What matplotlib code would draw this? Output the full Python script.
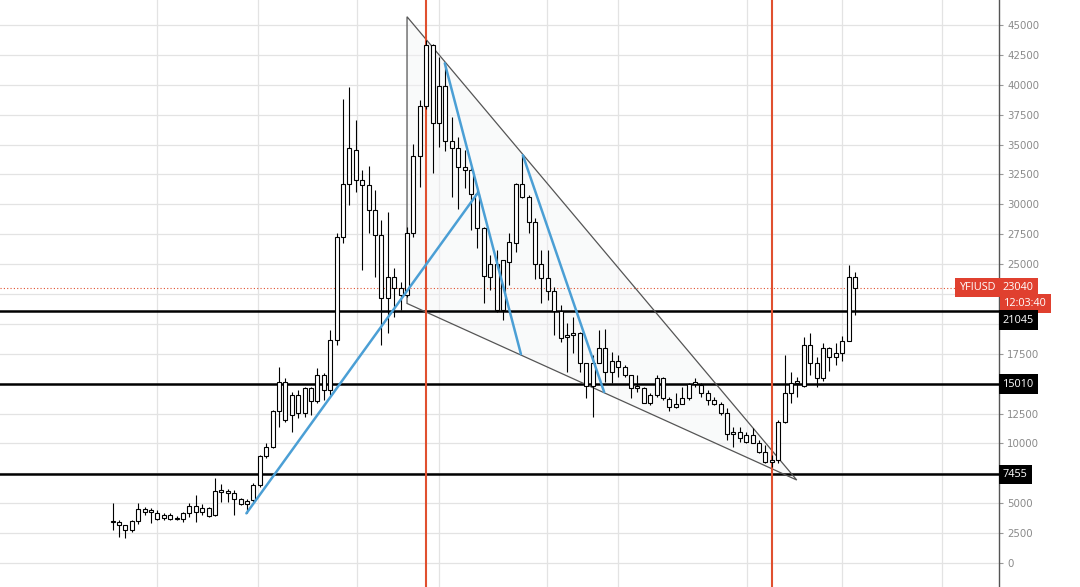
import matplotlib
matplotlib.use("Agg")
import matplotlib.pyplot as plt
from matplotlib.patches import Rectangle, Polygon
import numpy as np

# ---------------- data ----------------
opens = [3500, 3450, 3180, 2760, 3500, 4490, 4300, 4200, 3740, 4000, 3700, 3700, 4200, 4760, 4300, 4570,
         4010, 6040, 6000, 5850, 5330, 4950, 5270, 6520, 8950, 9720, 12710, 15100, 12370, 14040, 12510, 14650,
         13540, 15720, 14460, 18640, 27280, 31690, 34580, 32020, 31600, 29510, 27420, 22130, 23930, 22960, 22400, 27560,
         34050, 38200, 43300, 36820, 39880, 35300, 34750, 33130, 32910, 30850, 27980, 23930, 25000, 21150, 25190, 26780,
         31660, 30620, 28530, 25050, 23800, 22760, 21090, 18870, 19060, 19250, 16690, 14800, 16690, 18000, 15990, 16910,
         16410, 15720, 14600, 14600, 13350, 14040, 15440, 13680, 13020, 13290, 13770, 14960, 14880, 14190, 13630, 13290,
         12510, 10780, 10980, 10140, 10700, 10060, 9300, 8470, 8600, 11810, 14250, 15070, 14800, 18220, 16690, 15440,
         17950, 17250, 17580, 18580, 23930]
highs = [4990, 3600, 3200, 3600, 4990, 4700, 4570, 4430, 4180, 4150, 3900, 4290, 5040, 5690, 4900, 4700,
         7080, 6580, 6190, 6100, 5400, 5330, 6660, 9030, 10000, 12790, 16410, 15440, 14320, 14460, 14740, 14740,
         16270, 15910, 19480, 27610, 38850, 39820, 37030, 32850, 33190, 31180, 28675, 29370, 24660, 23520, 28110, 35080,
         38700, 43720, 43450, 42330, 41800, 37310, 35640, 34530, 33130, 31180, 28110, 25750, 26170, 25330, 27560, 31790,
         34110, 30760, 28820, 26170, 26170, 23100, 21570, 20040, 20590, 19340, 16690, 17390, 19480, 19540, 17670, 17390,
         16550, 15720, 15720, 14690, 14190, 15720, 15570, 13900, 14190, 14740, 15020, 15490, 15020, 14460, 13900, 13480,
         12930, 11390, 11390, 10980, 11260, 10280, 9860, 9030, 11950, 17390, 15990, 15570, 18870, 19200, 17200, 18420,
         18080, 18370, 18980, 24910, 24350]
lows = [2760, 2200, 2100, 2600, 3300, 4010, 3370, 3600, 3600, 3600, 3600, 3450, 3870, 3450, 4000, 3870,
        3900, 5120, 5080, 4010, 4850, 4150, 5120, 6350, 8750, 9590, 11390, 11810, 10980, 12100, 12230, 12370,
        13350, 13630, 14040, 18220, 26750, 29930, 31040, 24500, 27560, 23930, 18220, 19200, 20590, 21150, 22260, 27280,
        31460, 38000, 32580, 34800, 34500, 30620, 29650, 31330, 27840, 26310, 21760, 22820, 21010, 20310, 23240, 26020,
        30490, 27560, 23720, 21710, 21990, 19060, 18500, 15990, 17530, 15990, 13770, 12230, 16690, 15160, 15070, 15570,
        15570, 13770, 14320, 13350, 13210, 13900, 13630, 12730, 12930, 13290, 13630, 14740, 13900, 13210, 13210, 12370,
        10280, 9670, 10140, 10000, 10000, 9170, 8330, 8050, 8330, 11680, 13350, 13900, 14690, 15720, 14690, 15240,
        16080, 16550, 16890, 18580, 20730]
closes = [3400, 3180, 2800, 3510, 4490, 4300, 4400, 3700, 4000, 3700, 3790, 4200, 4790, 4300, 4570, 3900,
          6040, 6000, 5850, 5330, 4950, 5150, 6520, 8950, 9720, 12710, 15100, 11950, 14040, 12510, 14600, 13540,
          15720, 14460, 18640, 27280, 31690, 34670, 32020, 31600, 29510, 27420, 22130, 23930, 22960, 22400, 27560, 34050,
          38200, 43300, 36820, 39880, 35300, 34750, 33130, 32910, 30850, 27980, 23990, 25000, 21150, 25330, 26860, 31660,
          30620, 28530, 25050, 23800, 22760, 21090, 18780, 19060, 19250, 16690, 14800, 16690, 18000, 15990, 16910, 16410,
          15720, 14600, 14800, 13350, 14040, 15440, 13770, 13020, 13290, 13770, 14960, 15160, 14190, 13630, 13290, 12510,
          10780, 10980, 10420, 10700, 10060, 9300, 8470, 8600, 11810, 14250, 15070, 15240, 18220, 16690, 15440, 17950,
          17250, 17580, 18580, 23930, 23040]

levels = [21045, 15010, 7455]
level_labels = ["21045", "15010", "7455"]
event_candles = [49, 103]
last_price = 23040
symbol = "YFIUSD"
countdown = "12:03:40"
# tick labels visible on the price scale (the others are hidden behind label boxes)
y_ticks = [0, 2500, 5000, 10000, 12500, 17500, 25000, 27500, 30000,
           32500, 35000, 37500, 40000, 42500, 45000]
grid_y = list(range(0, 47500, 2500))
grid_x = [6.9, 22.7, 38.2, 51.0, 67.9, 79.0, 99.1, 114.0, 129.6]

# drawings (candle index, price)
triangle = [(46.0, 45690), (46.0, 21710), (106.9, 6940)]
blue_lines = [((20.9, 4155), (57.0, 30910)),
              ((51.9, 41800), (63.8, 17470)),
              ((64.1, 34110), (76.8, 14300))]

# ---------------- figure ----------------
W, H = 1080, 587
fig = plt.figure(figsize=(W / 100, H / 100), dpi=100)
ax = fig.add_axes([0, 0, 999 / W, 1])
plt.rcParams['font.family'] = ['Open Sans', 'DejaVu Sans']

ax.set_xlim(-17.6, 138.5)
ax.set_ylim(-2007, 47090)

gcol = "#e3e3e3"
for gy in grid_y:
    ax.axhline(gy, color=gcol, lw=0.9, zorder=0)
for gx in grid_x:
    ax.axvline(gx, color=gcol, lw=0.9, zorder=0)

# triangle
tri = Polygon(triangle, closed=True, facecolor="#f3f4f6", alpha=0.45, edgecolor="none", zorder=1)
ax.add_patch(tri)
tri_e = Polygon(triangle, closed=True, fill=False, edgecolor="#555555", lw=0.9, zorder=4)
ax.add_patch(tri_e)

# horizontal levels
for lv in levels:
    ax.axhline(lv, color="black", lw=1.8, zorder=3)

# event lines
for ec in event_candles:
    ax.axvline(ec, color="#e0502f", lw=1.5, zorder=5)

# price line
ax.axhline(last_price, color="#e0502f", lw=0.8, ls=(0, (1, 2)), zorder=2)

# candles
bw = 0.62
min_h = 90
for i, (o, h, l, c) in enumerate(zip(opens, highs, lows, closes)):
    ax.plot([i, i], [l, h], color="black", lw=0.8, zorder=6, solid_capstyle="butt")
    lo, hi = min(o, c), max(o, c)
    if hi - lo < min_h:
        mid = (hi + lo) / 2
        lo, hi = mid - min_h / 2, mid + min_h / 2
    ax.add_patch(Rectangle((i - bw / 2, lo), bw, hi - lo, facecolor="white",
                           edgecolor="black", lw=0.8, zorder=7))

# blue lines
for (x0, y0), (x1, y1) in blue_lines:
    ax.plot([x0, x1], [y0, y1], color="#4b9fd5", lw=1.8, zorder=8, solid_capstyle="round")

# axes styling
for s in ["left", "top", "bottom"]:
    ax.spines[s].set_visible(False)
ax.spines["right"].set_color("#555555")
ax.spines["right"].set_linewidth(1.0)
ax.set_xticks([])
ax.yaxis.tick_right()
ax.set_yticks(y_ticks)
ax.set_yticklabels([str(t) for t in y_ticks])
ax.tick_params(axis="y", direction="out", length=3, width=0.8, color="#999999",
               labelcolor="#8a8a8a", labelsize=7.4, pad=3)

# label boxes on the price axis
ytr = ax.get_yaxis_transform()
def box(x, y, txt, fc, ha="left"):
    ax.text(x, y, txt, transform=ytr, ha=ha, va="center", color="white", fontsize=7.8,
            bbox=dict(boxstyle="square,pad=0.38", fc=fc, ec="none"), zorder=20, clip_on=False)

box(1.004, last_price, str(last_price), "#e0402f")
box(0.997, last_price, symbol, "#e0402f", ha="right")
box(1.005, 21680, countdown, "#e0402f")
box(1.004, 20320, level_labels[0], "black")
box(1.004, 14965, level_labels[1], "black")
box(1.004, 7420, level_labels[2], "black")

fig.savefig("out.png", dpi=100)
